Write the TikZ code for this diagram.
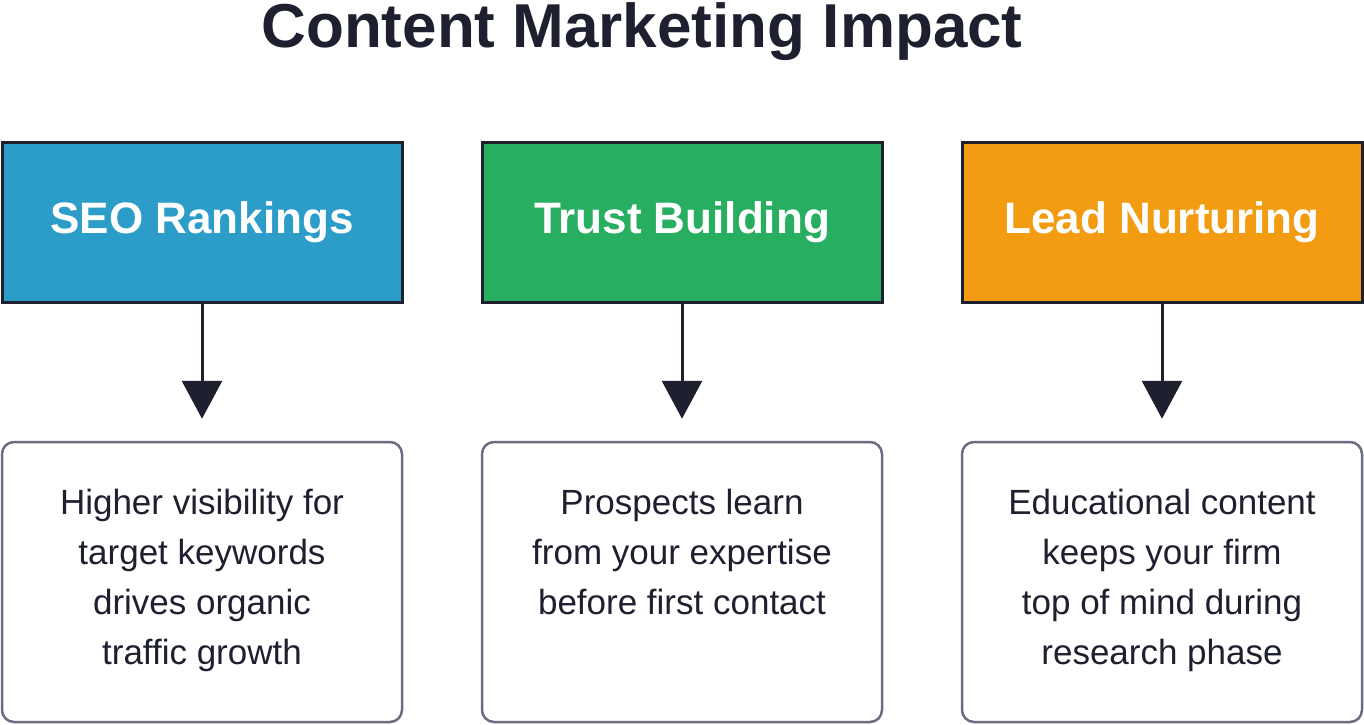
\documentclass[tikz,border=0pt]{standalone}
\usepackage{fontspec}
\setmainfont{Liberation Sans}
\usetikzlibrary{arrows.meta}
\begin{document}
\begin{tikzpicture}[x=1pt,y=-1pt,
 top/.style={draw=dark,line width=3pt,minimum width=400pt,minimum height=160pt,text=white,font=\fontsize{44}{52}\selectfont\bfseries},
 bot/.style={draw=greyb,line width=2.5pt,rounded corners=12pt,fill=white,minimum width=400pt,minimum height=280pt},
 txt/.style={align=center,text=dark,font=\fontsize{35}{50}\selectfont},
 arr/.style={draw=dark,line width=3pt,-{Triangle[length=38pt,width=40pt]}}]
\definecolor{dark}{HTML}{1E2030}
\definecolor{greyb}{HTML}{6B6E80}
\definecolor{cblue}{HTML}{2B9DC8}
\definecolor{cgreen}{HTML}{27AE60}
\definecolor{corange}{HTML}{F39C12}
\useasboundingbox (0,0) rectangle (1364,724);
\node[text=dark,font=\fontsize{62}{70}\selectfont\bfseries] (title) at (642,32) {Content Marketing Impact};
\foreach \x/\c/\n/\t/\b in {202/cblue/a/SEO Rankings/{Higher visibility for\\target keywords\\drives organic\\traffic growth},682/cgreen/b/Trust Building/{Prospects learn\\from your expertise\\before first contact\\\strut},1162/corange/c/Lead Nurturing/{Educational content\\keeps your firm\\top of mind during\\research phase}}{
 \node[top,fill=\c] (t\n) at (\x,222) {\t};
 \node[bot] (b\n) at (\x,582) {};
 \node[txt,anchor=north] (x\n) at (\x,486) {\b};
 \draw[arr] (t\n.south) -- ([yshift=22pt]b\n.north);
}
\end{tikzpicture}
\end{document}
